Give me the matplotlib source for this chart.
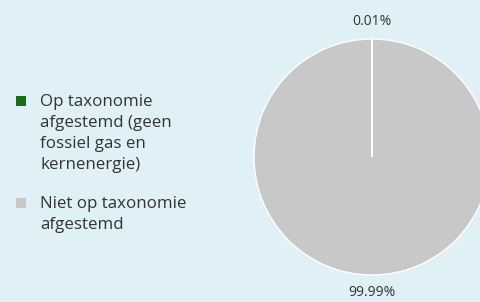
import matplotlib
matplotlib.use("Agg")
import matplotlib.pyplot as plt
from matplotlib.patches import Rectangle
import numpy as np

categories = ["Op taxonomie\nafgestemd (geen\nfossiel gas en\nkernenergie)",
              "Niet op taxonomie\nafgestemd"]
values = [0.01, 99.99]
value_labels = ["0.01%", "99.99%"]
colors = ["#1a6b1a", "#c8c8c8"]

bg = "#dff0f7"
W, H = 481, 302
plt.rcParams['font.family'] = ['Open Sans', 'DejaVu Sans']
fig = plt.figure(figsize=(W / 100, H / 100), dpi=100, facecolor=bg)

cx, cy, r = 372, 157, 118
ax = fig.add_axes([(cx - r) / W, (H - cy - r) / H, 2 * r / W, 2 * r / H])
ax.set_facecolor(bg)
wedges, _ = ax.pie(values, colors=colors, startangle=90, counterclock=False,
                   wedgeprops=dict(edgecolor="white", linewidth=1), radius=1)
ax.set_xlim(-1, 1)
ax.set_ylim(-1, 1)
ax.set_aspect("equal")
ax.axis("off")

for w, lab in zip(wedges, value_labels):
    ang = np.deg2rad((w.theta1 + w.theta2) / 2)
    d = 1.145
    ax.text(d * np.cos(ang), d * np.sin(ang), lab, ha="center", va="center",
            fontsize=10, color="#333333", clip_on=False)

# legend drawn in pixel coordinates
item_top_baselines = [106, 208]
line_step = 21
for c, label, base in zip(colors, categories, item_top_baselines):
    fig.patches.append(Rectangle((16 / W, (H - base) / H), 10 / W, 10 / H,
                                 transform=fig.transFigure, facecolor=c,
                                 edgecolor="none"))
    for i, line in enumerate(label.split("\n")):
        y = base + i * line_step
        fig.text(40 / W, (H - y) / H, line, ha="left", va="baseline",
                 fontsize=12.2, color="#333333")

fig.savefig("out.png", dpi=100, facecolor=bg)
